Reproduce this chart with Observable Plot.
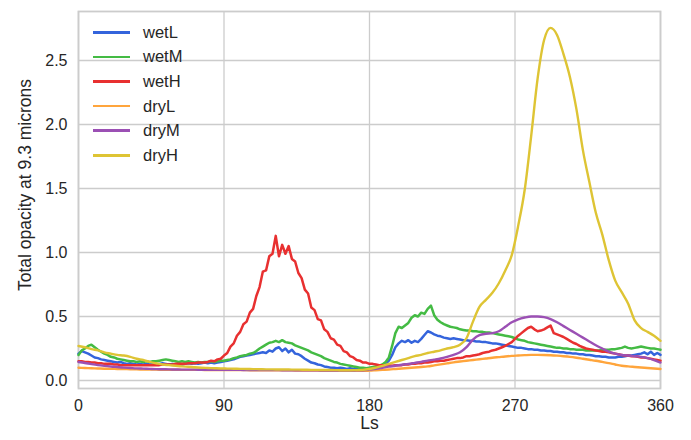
<!DOCTYPE html>
<html>
<head>
<meta charset="utf-8">
<script src="https://cdn.jsdelivr.net/npm/d3@7"></script>
<script src="https://cdn.jsdelivr.net/npm/@observablehq/plot@0.6"></script>
<style>
  body { margin: 0; background: #fff; font-family: "Liberation Sans", Arial, sans-serif; }
  #chart { position: relative; width: 691px; height: 440px; }
  #legend { position: absolute; left: 93px; top: 20px; }
  .item { display: flex; align-items: center; height: 24.6px; font-size: 16.5px; color: #262626; }
  .swatch { width: 37px; height: 2.6px; margin-right: 13px; }
</style>
</head>
<body>
<div id="chart"><div id="legend"></div></div>
<script>
// Solar longitude grids (degrees): wet runs every 2°, dry runs every 4°
const lsWet = d3.range(0, 361, 2);
const lsDry = d3.range(0, 361, 4);

const seriesNames = ["wetL", "wetM", "wetH", "dryL", "dryM", "dryH"];
const seriesColors = ["#3464dc", "#44bb44", "#e83030", "#ffa53c", "#9b50b4", "#dec434"];

const xTicks = [0, 90, 180, 270, 360];
const yTicks = [0, 0.5, 1, 1.5, 2, 2.5];

// Total 9.3 micron opacity, wet runs
const wetL = [
  0.21, 0.23, 0.22, 0.21, 0.195, 0.18, 0.175, 0.165, 0.16, 0.155,
  0.15, 0.145, 0.14, 0.145, 0.135, 0.13, 0.135, 0.13, 0.125, 0.13,
  0.125, 0.13, 0.125, 0.13, 0.125, 0.13, 0.135, 0.13, 0.125, 0.13,
  0.125, 0.13, 0.125, 0.13, 0.135, 0.13, 0.135, 0.13, 0.135, 0.14,
  0.135, 0.14, 0.135, 0.14, 0.145, 0.15, 0.155, 0.16, 0.165, 0.175,
  0.185, 0.19, 0.195, 0.20, 0.205, 0.21, 0.215, 0.22, 0.215, 0.235,
  0.225, 0.25, 0.26, 0.23, 0.25, 0.22, 0.24, 0.21, 0.205, 0.19,
  0.17, 0.155, 0.14, 0.135, 0.125, 0.12, 0.11, 0.105, 0.10, 0.10,
  0.095, 0.10, 0.095, 0.09, 0.095, 0.09, 0.09, 0.085, 0.09, 0.09,
  0.095, 0.10, 0.105, 0.11, 0.115, 0.13, 0.155, 0.20, 0.26, 0.29,
  0.31, 0.30, 0.315, 0.295, 0.31, 0.30, 0.325, 0.355, 0.385, 0.375,
  0.36, 0.35, 0.345, 0.335, 0.33, 0.325, 0.33, 0.325, 0.32, 0.315,
  0.315, 0.31, 0.31, 0.305, 0.305, 0.30, 0.30, 0.295, 0.29, 0.29,
  0.285, 0.28, 0.275, 0.27, 0.265, 0.26, 0.255, 0.255, 0.25, 0.245,
  0.245, 0.24, 0.24, 0.235, 0.235, 0.23, 0.23, 0.225, 0.225, 0.22,
  0.22, 0.215, 0.215, 0.21, 0.21, 0.205, 0.205, 0.20, 0.20, 0.195,
  0.19, 0.19, 0.185, 0.185, 0.18, 0.18, 0.18, 0.185, 0.185, 0.19,
  0.195, 0.195, 0.20, 0.205, 0.21, 0.22, 0.205, 0.225, 0.20, 0.215,
  0.20
];
const wetM = [
  0.20, 0.235, 0.25, 0.27, 0.28, 0.26, 0.24, 0.225, 0.21, 0.20,
  0.185, 0.18, 0.17, 0.165, 0.16, 0.155, 0.15, 0.15, 0.145, 0.15,
  0.145, 0.15, 0.145, 0.15, 0.15, 0.155, 0.16, 0.165, 0.16, 0.155,
  0.15, 0.145, 0.15, 0.145, 0.15, 0.145, 0.14, 0.145, 0.14, 0.145,
  0.145, 0.15, 0.145, 0.15, 0.155, 0.155, 0.16, 0.165, 0.175, 0.18,
  0.19, 0.195, 0.20, 0.21, 0.215, 0.23, 0.25, 0.265, 0.28, 0.295,
  0.30, 0.31, 0.30, 0.315, 0.30, 0.295, 0.29, 0.275, 0.265, 0.255,
  0.245, 0.235, 0.22, 0.21, 0.20, 0.19, 0.175, 0.165, 0.155, 0.145,
  0.14, 0.13, 0.125, 0.12, 0.115, 0.11, 0.105, 0.10, 0.10, 0.095,
  0.10, 0.105, 0.11, 0.115, 0.125, 0.145, 0.18, 0.27, 0.37, 0.42,
  0.41, 0.43, 0.45, 0.49, 0.51, 0.50, 0.53, 0.52, 0.56, 0.585,
  0.51, 0.475, 0.455, 0.44, 0.43, 0.42, 0.415, 0.41, 0.40, 0.395,
  0.39, 0.39, 0.385, 0.385, 0.38, 0.38, 0.375, 0.375, 0.37, 0.365,
  0.36, 0.355, 0.35, 0.345, 0.34, 0.33, 0.32, 0.315, 0.31, 0.30,
  0.295, 0.29, 0.285, 0.28, 0.275, 0.27, 0.265, 0.26, 0.255, 0.255,
  0.25, 0.25, 0.245, 0.245, 0.24, 0.24, 0.24, 0.235, 0.235, 0.235,
  0.235, 0.235, 0.24, 0.24, 0.24, 0.245, 0.245, 0.25, 0.255, 0.265,
  0.255, 0.25, 0.255, 0.26, 0.265, 0.26, 0.255, 0.25, 0.25, 0.245,
  0.24
];
const wetH = [
  0.15, 0.15, 0.145, 0.145, 0.14, 0.14, 0.135, 0.135, 0.13, 0.13,
  0.13, 0.125, 0.125, 0.12, 0.12, 0.12, 0.12, 0.12, 0.12, 0.12,
  0.12, 0.12, 0.12, 0.12, 0.12, 0.12, 0.125, 0.125, 0.125, 0.125,
  0.13, 0.13, 0.13, 0.13, 0.135, 0.135, 0.135, 0.14, 0.14, 0.14,
  0.145, 0.155, 0.15, 0.165, 0.17, 0.195, 0.215, 0.265, 0.29, 0.35,
  0.38, 0.44, 0.46, 0.53, 0.56, 0.66, 0.73, 0.85, 0.86, 0.97,
  0.99, 1.13, 0.97, 1.06, 0.99, 1.05, 0.95, 0.93, 0.84, 0.80,
  0.71, 0.68, 0.57, 0.55, 0.48, 0.47, 0.40, 0.38, 0.33, 0.32,
  0.28, 0.27, 0.23, 0.22, 0.19, 0.18, 0.16, 0.155, 0.14, 0.14,
  0.13, 0.13, 0.125, 0.12, 0.12, 0.115, 0.12, 0.115, 0.12, 0.12,
  0.12, 0.125, 0.125, 0.13, 0.13, 0.135, 0.135, 0.14, 0.14, 0.145,
  0.15, 0.15, 0.155, 0.155, 0.16, 0.165, 0.17, 0.175, 0.175, 0.18,
  0.19, 0.19, 0.195, 0.20, 0.205, 0.215, 0.22, 0.225, 0.235, 0.24,
  0.25, 0.26, 0.27, 0.285, 0.30, 0.325, 0.35, 0.37, 0.39, 0.41,
  0.42, 0.40, 0.385, 0.39, 0.40, 0.415, 0.43, 0.37, 0.36, 0.35,
  0.34, 0.325, 0.31, 0.295, 0.285, 0.27, 0.26, 0.25, 0.245, 0.24,
  0.235, 0.23, 0.225, 0.225, 0.22, 0.215, 0.21, 0.205, 0.20, 0.195,
  0.195, 0.19, 0.19, 0.185, 0.18, 0.18, 0.175, 0.17, 0.165, 0.16,
  0.155
];

// Total 9.3 micron opacity, dry runs
const dryL = [
  0.10, 0.098, 0.096, 0.094, 0.092, 0.091, 0.09, 0.089, 0.088, 0.087,
  0.086, 0.085, 0.085, 0.084, 0.084, 0.084, 0.083, 0.083, 0.083, 0.083,
  0.082, 0.082, 0.082, 0.082, 0.081, 0.081, 0.081, 0.08, 0.08, 0.08,
  0.08, 0.079, 0.079, 0.079, 0.078, 0.078, 0.077, 0.077, 0.076, 0.076,
  0.076, 0.075, 0.075, 0.075, 0.075, 0.077, 0.08, 0.083, 0.086, 0.09,
  0.094, 0.098, 0.102, 0.106, 0.11, 0.118, 0.126, 0.134, 0.142, 0.148,
  0.154, 0.16, 0.166, 0.172, 0.178, 0.183, 0.188, 0.192, 0.195, 0.198,
  0.20, 0.20, 0.199, 0.197, 0.194, 0.19, 0.185, 0.178, 0.17, 0.162,
  0.154, 0.145, 0.136, 0.125, 0.115, 0.11, 0.106, 0.102, 0.098, 0.094,
  0.09
];
const dryM = [
  0.145, 0.137, 0.128, 0.12, 0.114, 0.109, 0.105, 0.101, 0.098, 0.095,
  0.093, 0.091, 0.089, 0.088, 0.087, 0.086, 0.085, 0.085, 0.085, 0.084,
  0.084, 0.084, 0.083, 0.083, 0.083, 0.083, 0.082, 0.082, 0.082, 0.081,
  0.081, 0.081, 0.08, 0.08, 0.08, 0.079, 0.079, 0.079, 0.078, 0.078,
  0.078, 0.078, 0.078, 0.079, 0.08, 0.085, 0.092, 0.10, 0.108, 0.115,
  0.123, 0.13, 0.138, 0.146, 0.155, 0.163, 0.172, 0.185, 0.20, 0.22,
  0.26, 0.32, 0.355, 0.365, 0.37, 0.385, 0.42, 0.455, 0.478, 0.492,
  0.50, 0.50, 0.495, 0.48, 0.455, 0.425, 0.395, 0.365, 0.335, 0.305,
  0.275, 0.25, 0.225, 0.21, 0.20, 0.195, 0.19, 0.185, 0.175, 0.16,
  0.14
];
const dryH = [
  0.27, 0.26, 0.245, 0.235, 0.22, 0.21, 0.20, 0.195, 0.185, 0.17,
  0.16, 0.145, 0.135, 0.125, 0.12, 0.115, 0.11, 0.107, 0.103, 0.10,
  0.098, 0.096, 0.094, 0.093, 0.092, 0.091, 0.09, 0.089, 0.088, 0.087,
  0.087, 0.086, 0.086, 0.085, 0.085, 0.084, 0.083, 0.083, 0.082, 0.082,
  0.081, 0.08, 0.08, 0.081, 0.083, 0.09, 0.10, 0.115, 0.13, 0.145,
  0.16, 0.175, 0.19, 0.20, 0.215, 0.225, 0.235, 0.25, 0.26, 0.28,
  0.33, 0.46, 0.575, 0.63, 0.685, 0.76, 0.86, 0.98, 1.21, 1.49,
  1.91, 2.36, 2.66, 2.755, 2.70, 2.55, 2.37, 2.12, 1.80, 1.55,
  1.31, 1.14, 0.94, 0.78, 0.69, 0.60, 0.47, 0.41, 0.38, 0.35,
  0.31
];

const wetSeries = {wetL, wetM, wetH};
const drySeries = {dryL, dryM, dryH};
const toRows = (grid, group) =>
  Object.entries(group).flatMap(([series, values]) =>
    values.map((value, i) => ({ls: grid[i], value, series})));
const wetRows = toRows(lsWet, wetSeries);
const dryRows = toRows(lsDry, drySeries);

const grid = "#cccccc";
const chart = Plot.plot({
  width: 691,
  height: 440,
  marginLeft: 78,
  marginRight: 31,
  marginTop: 11,
  marginBottom: 52,
  style: {fontFamily: "'Liberation Sans', Arial, sans-serif", fontSize: "16px", color: "#262626", background: "#fff", overflow: "visible"},
  x: {domain: [0, 360]},
  y: {domain: [-0.0625, 2.883]},
  color: {domain: seriesNames, range: seriesColors},
  marks: [
    Plot.gridX(xTicks, {stroke: grid, strokeOpacity: 1, strokeWidth: 1.3}),
    Plot.gridY(yTicks, {stroke: grid, strokeOpacity: 1, strokeWidth: 1.3}),
    Plot.frame({stroke: grid, strokeWidth: 1.8}),
    Plot.line(wetRows, {x: "ls", y: "value", z: "series", stroke: "series", strokeWidth: 2.5, strokeLinejoin: "round"}),
    Plot.line(dryRows, {x: "ls", y: "value", z: "series", stroke: "series", strokeWidth: 2.4, curve: "monotone-x"}),
    Plot.axisX(xTicks, {tickSize: 0, tickPadding: 11, label: null, fontSize: 16}),
    Plot.axisY(yTicks, {tickSize: 0, tickPadding: 11, tickFormat: d3.format(".1f"), label: null, fontSize: 16}),
    Plot.text(["Ls"], {frameAnchor: "bottom", dy: 40, fontSize: 17.5, fill: "#262626"}),
    Plot.text(["Total opacity at 9.3 microns"], {frameAnchor: "left", textAnchor: "middle", dx: -53, dy: -15, rotate: -90, fontSize: 17.5, fill: "#262626"})
  ]
});
const holder = document.getElementById("chart");
holder.insertBefore(chart, holder.firstChild);

// Legend: short coloured line plus series name
const legend = d3.select("#legend");
seriesNames.forEach((name, i) => {
  const item = legend.append("div").attr("class", "item");
  item.append("div").attr("class", "swatch").style("background", seriesColors[i]);
  item.append("span").text(name);
});
</script>
</body>
</html>
